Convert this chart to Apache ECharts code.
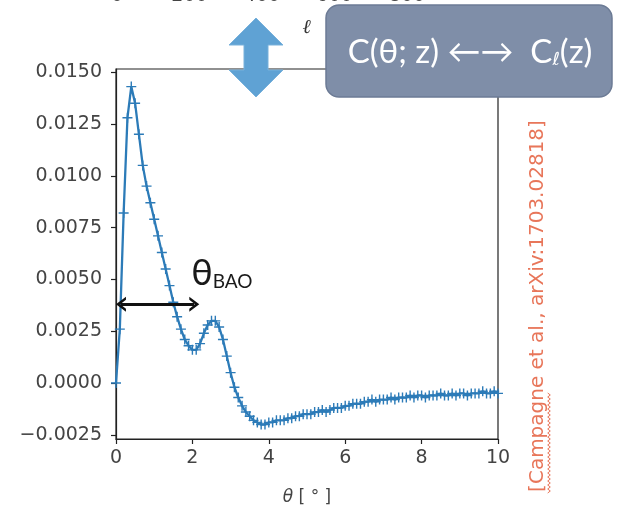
<!DOCTYPE html>
<html>
<head>
<meta charset="utf-8">
<script src="https://cdn.jsdelivr.net/npm/echarts@6/dist/echarts.min.js"></script>
<style>
html,body{margin:0;padding:0;background:#fff;}
#c{width:619px;height:513px;}
</style>
</head>
<body>
<div id="c"></div>
<script>
// ---- data ----
const theta = [0.0,0.1,0.2,0.3,0.4,0.5,0.6,0.7,0.8,0.9,
  1.0,1.1,1.2,1.3,1.4,1.5,1.6,1.7,1.8,1.9,
  2.0,2.1,2.2,2.3,2.4,2.5,2.6,2.7,2.8,2.9,
  3.0,3.1,3.2,3.3,3.4,3.5,3.6,3.7,3.8,3.9,
  4.0,4.1,4.2,4.3,4.4,4.5,4.6,4.7,4.8,4.9,
  5.0,5.1,5.2,5.3,5.4,5.5,5.6,5.7,5.8,5.9,
  6.0,6.1,6.2,6.3,6.4,6.5,6.6,6.7,6.8,6.9,
  7.0,7.1,7.2,7.3,7.4,7.5,7.6,7.7,7.8,7.9,
  8.0,8.1,8.2,8.3,8.4,8.5,8.6,8.7,8.8,8.9,
  9.0,9.1,9.2,9.3,9.4,9.5,9.6,9.7,9.8,9.9,10.0];
const corr = [0.0000,0.0026,0.0082,0.0128,0.0143,0.0135,0.0120,0.0105,0.0095,0.0087,
  0.0079,0.0071,0.0063,0.0055,0.0047,0.0039,0.0032,0.0026,0.0021,0.0018,
  0.0016,0.0016,0.0019,0.0024,0.0028,0.0030,0.0030,0.0027,0.0021,0.0013,
  0.0005,-0.0002,-0.0007,-0.0011,-0.0014,-0.0016,-0.0018,-0.0019,-0.0020,-0.0020,
  -0.0019,-0.0019,-0.0018,-0.0018,-0.0018,-0.0017,-0.0017,-0.0016,-0.0016,-0.0015,
  -0.0015,-0.0015,-0.0014,-0.0014,-0.0013,-0.0014,-0.0013,-0.0012,-0.0012,-0.0012,
  -0.0011,-0.0011,-0.0010,-0.0010,-0.0010,-0.0009,-0.0009,-0.0008,-0.0009,-0.0008,
  -0.0008,-0.0008,-0.0007,-0.0008,-0.0007,-0.0007,-0.0007,-0.0006,-0.0007,-0.0006,
  -0.0006,-0.0007,-0.0006,-0.0006,-0.0006,-0.0005,-0.0006,-0.0006,-0.0005,-0.0006,
  -0.0005,-0.0005,-0.0006,-0.0005,-0.0005,-0.0005,-0.0004,-0.0005,-0.0005,-0.0004,-0.0005];
const yTicks = [-0.0025,0.0000,0.0025,0.0050,0.0075,0.0100,0.0125,0.0150];
const xTicks = [0,2,4,6,8,10];
const topTickLabels = ['0','200','400','600','800'];
const baoArrow = [[0.13,0.0038],[2.05,0.0038]];
const baoLabelPos = [2.77,0.0053];

const chart = echarts.init(document.getElementById('c'), null, {renderer:'canvas'});
const blue = '#2c7bb8';
const plusPath = 'path://M0,4.3h10v1.4h-10z M4.3,0h1.4v10h-1.4z';
const chevron = 'path://M5,0 L10,8 L8,8 L5,3.4 L2,8 L0,8 Z';
const fmtY = v => (v < -1e-9 ? '\u2212' : '') + Math.abs(v).toFixed(4);

// wavy underline under "Campagne" (decoration)
const wavy = [];
for (let k = 0; k <= 50; k++) {
  const y = 493 - k * 2;
  wavy.push([549 + (k % 2 ? 1.3 : -1.3), y]);
}

const topLabelGraphics = topTickLabels.map((t, i) => ({
  type: 'text', x: 117 + i * 72.5, y: 6, z: 100,
  style: {text: t, fontSize: 19, fontFamily: 'DejaVu Sans', fill: '#444', align: 'center', verticalAlign: 'bottom'}
}));

chart.setOption({
  animation: false,
  backgroundColor: '#fff',
  grid: {left:116, right:121, top:69, bottom:74, show:true, borderColor:'#222', borderWidth:1.2, backgroundColor:'transparent'},
  xAxis: {
    type:'value', min:0, max:10, interval:2,
    axisLine:{show:true, onZero:false, lineStyle:{color:'#222', width:1.2}},
    axisTick:{show:true, inside:false, length:5, lineStyle:{color:'#222', width:1.2}},
    axisLabel:{fontSize:19, fontFamily:'DejaVu Sans', color:'#444', margin:10},
    splitLine:{show:false},
    name:'{t|θ} [ ° ]', nameLocation:'middle', nameGap:50,
    nameTextStyle:{fontSize:17, fontFamily:'DejaVu Sans', color:'#444',
      rich:{t:{fontSize:17, fontStyle:'italic', fontFamily:'DejaVu Sans', color:'#444'}}}
  },
  yAxis: {
    type:'value', min:-0.0027, max:0.01515,
    axisLine:{show:true, onZero:false, lineStyle:{color:'#222', width:1.2}},
    axisTick:{show:true, inside:false, length:5, customValues:yTicks, lineStyle:{color:'#222', width:1.2}},
    axisLabel:{fontSize:19, fontFamily:'DejaVu Sans', color:'#444', margin:14, customValues:yTicks, formatter:fmtY},
    splitLine:{show:false}
  },
  series: [{
    type:'line',
    data: theta.map((t,i)=>[t, corr[i]]),
    symbol: plusPath, symbolSize: 10, showAllSymbol: true,
    lineStyle:{color:blue, width:2.3},
    itemStyle:{color:blue},
    z: 3,
    markLine: {
      silent:true, symbol:[chevron, chevron], symbolSize:[15,10],
      lineStyle:{color:'#111', width:3, type:'solid'},
      label:{show:false},
      data:[[{coord:baoArrow[0]},{coord:baoArrow[1]}]],
      z: 5
    },
    markPoint: {
      silent:true,
      data:[{coord:baoLabelPos, symbol:'circle', symbolSize:1, itemStyle:{color:'rgba(0,0,0,0)'},
        label:{show:true, position:'inside', formatter:'{t|θ}{s|BAO}',
          rich:{t:{fontSize:36, fontFamily:'Lato', color:'#1a1a1a'},
                s:{fontSize:19, fontFamily:'Lato', color:'#1a1a1a', padding:[18,0,0,0]}}}}]
    }
  }],
  graphic: [
    ...topLabelGraphics,
    {type:'text', x:307, y:28, z:100, style:{text:'ℓ', fontSize:20, fontStyle:'italic', fontWeight:'bold', fontFamily:'DejaVu Serif', fill:'#333', align:'center', verticalAlign:'middle'}},
    {type:'polygon', z:100, shape:{points:[[256,18],[283,45],[268,45],[268,70],[283,70],[256,97],[229,70],[244,70],[244,45],[229,45]]},
      style:{fill:'#5fa2d4', stroke:'#78b1db', lineWidth:1}},
    {type:'rect', z:100, shape:{x:326, y:5, width:286, height:92, r:13}, style:{fill:'#7f8ea8', stroke:'#6c7b95', lineWidth:1.5}},
    {type:'text', x:470, y:52, z:101, style:{
      text:'{a|C(θ; z) ←→  C}{b|ℓ}{a|(z)}',
      rich:{a:{fontSize:33, fontFamily:'Lato', fill:'#fff'}, b:{fontSize:18, fontFamily:'DejaVu Sans', fill:'#fff', padding:[17,0,0,0]}},
      align:'center', verticalAlign:'middle'}},
    {type:'text', x:538, y:306, z:100, rotation:Math.PI/2, style:{
      text:'[Campagne et al., arXiv:1703.02818]', fontSize:20, fontFamily:'DejaVu Sans', fill:'#e8765a',
      align:'center', verticalAlign:'middle'}},
    {type:'polyline', z:100, shape:{points:wavy}, style:{stroke:'#e8765a', lineWidth:1, fill:null}}
  ]
});
</script>
</body>
</html>
